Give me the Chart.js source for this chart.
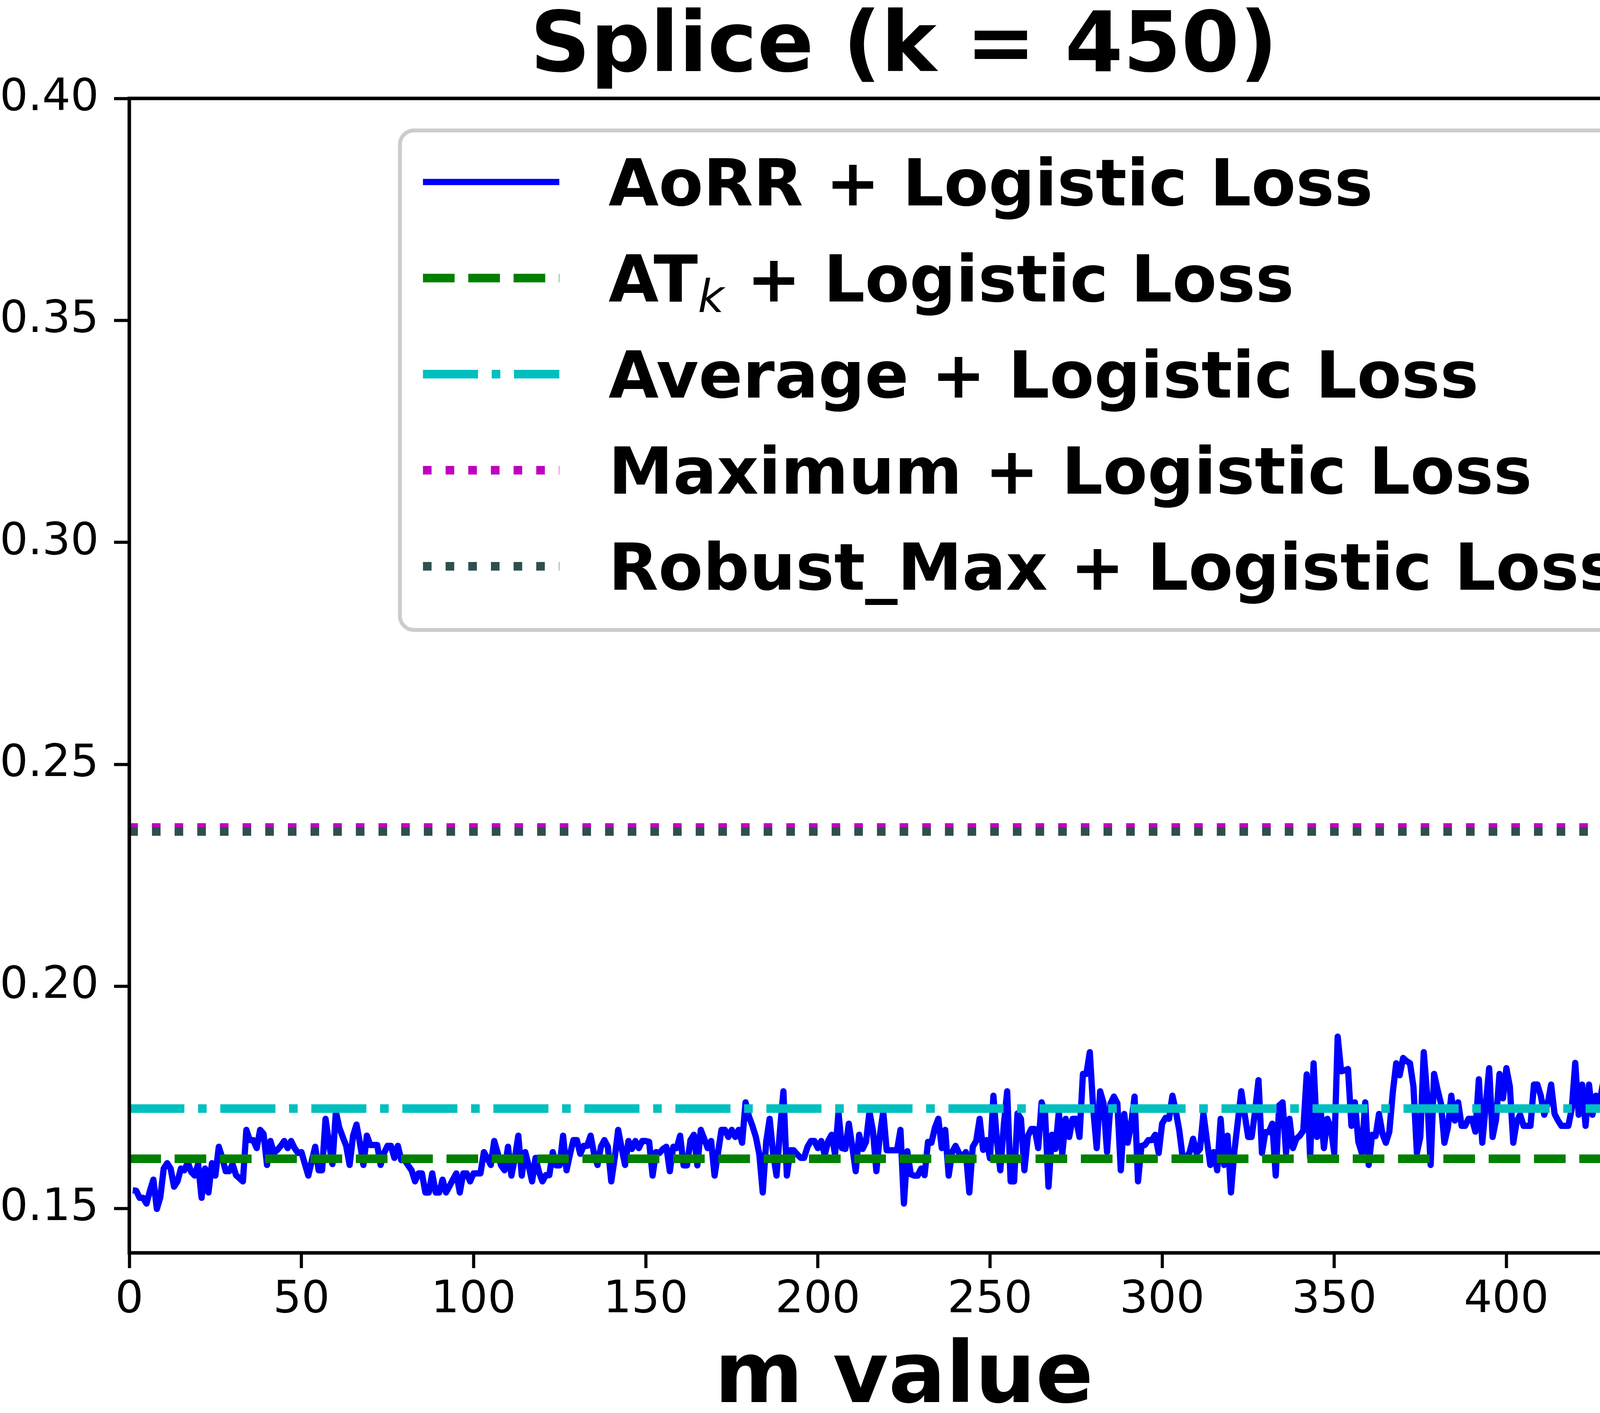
<!DOCTYPE html>
<html>
<head>
<meta charset="utf-8">
<title>Splice (k = 450)</title>
<script src="https://cdn.jsdelivr.net/npm/chart.js@4/dist/chart.umd.min.js"></script>
<style>
  html, body { margin: 0; padding: 0; background: #fff; overflow: hidden; }
  #splicechart { display: block; width: 4401px; height: 3618px; }
</style>
</head>
<body>
<canvas id="splicechart" width="4401" height="3618"></canvas>
<script>
// m runs from 1 to 450, one AoRR error value per m
var mStart = 1;
var aorrValues = [
    0.1541, 0.1540, 0.1524, 0.1524, 0.1511, 0.1540, 0.1565, 0.1499, 0.1525, 0.1590, 0.1602, 0.1590, 0.1549, 0.1561, 0.1590,
    0.1586, 0.1604, 0.1582, 0.1574, 0.1600, 0.1524, 0.1590, 0.1536, 0.1602, 0.1574, 0.1639, 0.1614, 0.1584, 0.1584, 0.1600,
    0.1575, 0.1568, 0.1561, 0.1677, 0.1654, 0.1654, 0.1636, 0.1677, 0.1668, 0.1598, 0.1652, 0.1625, 0.1632, 0.1641, 0.1652,
    0.1636, 0.1652, 0.1636, 0.1625, 0.1627, 0.1600, 0.1574, 0.1607, 0.1639, 0.1586, 0.1586, 0.1702, 0.1647, 0.1600, 0.1718,
    0.1682, 0.1661, 0.1641, 0.1598, 0.1664, 0.1689, 0.1647, 0.1598, 0.1664, 0.1643, 0.1643, 0.1643, 0.1598, 0.1625, 0.1641,
    0.1641, 0.1614, 0.1641, 0.1609, 0.1609, 0.1597, 0.1586, 0.1561, 0.1579, 0.1579, 0.1536, 0.1536, 0.1579, 0.1536, 0.1536,
    0.1565, 0.1536, 0.1550, 0.1565, 0.1579, 0.1536, 0.1579, 0.1579, 0.1561, 0.1579, 0.1579, 0.1579, 0.1627, 0.1613, 0.1598,
    0.1652, 0.1625, 0.1597, 0.1586, 0.1639, 0.1574, 0.1614, 0.1664, 0.1574, 0.1627, 0.1597, 0.1561, 0.1614, 0.1582, 0.1561,
    0.1575, 0.1575, 0.1627, 0.1597, 0.1597, 0.1664, 0.1586, 0.1622, 0.1654, 0.1654, 0.1623, 0.1641, 0.1641, 0.1664, 0.1623,
    0.1598, 0.1639, 0.1654, 0.1639, 0.1561, 0.1614, 0.1677, 0.1636, 0.1598, 0.1652, 0.1634, 0.1652, 0.1636, 0.1652, 0.1652,
    0.1650, 0.1574, 0.1627, 0.1625, 0.1634, 0.1639, 0.1584, 0.1639, 0.1636, 0.1664, 0.1597, 0.1597, 0.1654, 0.1666, 0.1597,
    0.1677, 0.1657, 0.1636, 0.1652, 0.1574, 0.1625, 0.1677, 0.1677, 0.1661, 0.1677, 0.1661, 0.1677, 0.1648, 0.1739, 0.1707,
    0.1686, 0.1661, 0.1622, 0.1536, 0.1650, 0.1702, 0.1625, 0.1574, 0.1675, 0.1764, 0.1574, 0.1631, 0.1631, 0.1622, 0.1614,
    0.1614, 0.1639, 0.1652, 0.1652, 0.1636, 0.1652, 0.1620, 0.1652, 0.1666, 0.1622, 0.1716, 0.1636, 0.1634, 0.1691, 0.1639,
    0.1584, 0.1666, 0.1634, 0.1650, 0.1718, 0.1675, 0.1584, 0.1664, 0.1718, 0.1631, 0.1631, 0.1631, 0.1631, 0.1677, 0.1511,
    0.1629, 0.1577, 0.1574, 0.1574, 0.1590, 0.1575, 0.1650, 0.1648, 0.1682, 0.1702, 0.1636, 0.1677, 0.1574, 0.1627, 0.1641,
    0.1625, 0.1616, 0.1627, 0.1536, 0.1639, 0.1652, 0.1702, 0.1632, 0.1654, 0.1613, 0.1754, 0.1654, 0.1586, 0.1686, 0.1764,
    0.1561, 0.1561, 0.1714, 0.1702, 0.1586, 0.1663, 0.1679, 0.1679, 0.1636, 0.1739, 0.1714, 0.1549, 0.1666, 0.1634, 0.1718,
    0.1622, 0.1702, 0.1661, 0.1702, 0.1702, 0.1661, 0.1803, 0.1803, 0.1852, 0.1723, 0.1636, 0.1764, 0.1737, 0.1627, 0.1736,
    0.1752, 0.1737, 0.1586, 0.1713, 0.1648, 0.1689, 0.1752, 0.1561, 0.1641, 0.1643, 0.1654, 0.1654, 0.1666, 0.1625, 0.1691,
    0.1704, 0.1702, 0.1754, 0.1718, 0.1675, 0.1613, 0.1613, 0.1627, 0.1657, 0.1625, 0.1634, 0.1714, 0.1654, 0.1598, 0.1627,
    0.1586, 0.1702, 0.1598, 0.1664, 0.1536, 0.1629, 0.1696, 0.1764, 0.1711, 0.1661, 0.1661, 0.1718, 0.1789, 0.1625, 0.1672,
    0.1672, 0.1691, 0.1574, 0.1732, 0.1739, 0.1625, 0.1702, 0.1636, 0.1657, 0.1664, 0.1675, 0.1802, 0.1614, 0.1827, 0.1661,
    0.1727, 0.1636, 0.1702, 0.1682, 0.1625, 0.1887, 0.1809, 0.1811, 0.1814, 0.1686, 0.1739, 0.1650, 0.1625, 0.1739, 0.1598,
    0.1666, 0.1663, 0.1713, 0.1668, 0.1648, 0.1673, 0.1761, 0.1827, 0.1800, 0.1839, 0.1832, 0.1827, 0.1775, 0.1625, 0.1661,
    0.1852, 0.1754, 0.1598, 0.1803, 0.1768, 0.1736, 0.1648, 0.1682, 0.1754, 0.1698, 0.1739, 0.1686, 0.1686, 0.1702, 0.1702,
    0.1673, 0.1791, 0.1648, 0.1732, 0.1816, 0.1661, 0.1700, 0.1803, 0.1748, 0.1816, 0.1775, 0.1648, 0.1696, 0.1711, 0.1686,
    0.1686, 0.1686, 0.1779, 0.1779, 0.1754, 0.1711, 0.1736, 0.1779, 0.1713, 0.1698, 0.1686, 0.1686, 0.1686, 0.1725, 0.1828,
    0.1711, 0.1779, 0.1686, 0.1779, 0.1711, 0.1754, 0.1736, 0.1779, 0.1746, 0.1736, 0.1791, 0.1754, 0.1739, 0.1779, 0.1816,
    0.1807, 0.1711, 0.1711, 0.1754, 0.1803, 0.1786, 0.1796, 0.1814, 0.1814, 0.1750, 0.1791, 0.1739, 0.1725, 0.1793, 0.1793
];

// flat baselines (same value for every m)
var atkValue = 0.1612;
var averageValue = 0.1725;
var maximumValue = 0.2358;
var robustMaxValue = 0.2349;

var seriesLabels = [
    'AoRR + Logistic Loss',
    'AT$_k$ + Logistic Loss',
    'Average + Logistic Loss',
    'Maximum + Logistic Loss',
    'Robust_Max + Logistic Loss'
];

var chartTitle = 'Splice (k = 450)';
var xTitle = 'm value';

var xRange = [0, 450];
var xTickValues = [0, 50, 100, 150, 200, 250, 300, 350, 400, 450];
var yRange = [0.14, 0.40];
var yTickValues = [0.15, 0.20, 0.25, 0.30, 0.35, 0.40];

var fontFamily = '"DejaVu Sans", sans-serif';

var aorrPoints = aorrValues.map(function (v, i) {
    return { x: mStart + i, y: v };
});

function flatLine(v) {
    return [{ x: xRange[0], y: v }, { x: xRange[1], y: v }];
}

// split "AT$_k$ + ..." into normal and subscript pieces
function labelParts(label) {
    var parts = [], re = /\$_(.+?)\$/g, last = 0, m;
    while ((m = re.exec(label)) !== null) {
        if (m.index > last) parts.push({ text: label.slice(last, m.index), sub: false });
        parts.push({ text: m[1], sub: true });
        last = re.lastIndex;
    }
    if (last < label.length) parts.push({ text: label.slice(last), sub: false });
    return parts;
}

var legendFont = 166;
var subFont = 116;

function partFont(p) {
    return p.sub ? 'italic ' + subFont + 'px ' + fontFamily : 'bold ' + legendFont + 'px ' + fontFamily;
}

function partsWidth(ctx, parts) {
    var w = 0;
    parts.forEach(function (p) {
        ctx.font = partFont(p);
        w += ctx.measureText(p.text).width;
    });
    return w;
}

var frameAndLegend = {
    id: 'frameAndLegend',
    afterDatasetsDraw: function (chart) {
        var a = chart.chartArea, ctx = chart.ctx;
        ctx.save();
        ctx.strokeStyle = '#000';
        ctx.lineWidth = 9;
        ctx.strokeRect(a.left, a.top, a.right - a.left, a.bottom - a.top);
        ctx.restore();
    },
    afterDraw: function (chart) {
        var a = chart.chartArea, ctx = chart.ctx;
        var sets = chart.data.datasets;
        ctx.save();

        // title, centred over the plot area like matplotlib
        ctx.font = 'bold 214px ' + fontFamily;
        ctx.fillStyle = '#000';
        ctx.textAlign = 'center';
        ctx.textBaseline = 'alphabetic';
        ctx.fillText(chartTitle, (a.left + a.right) / 2, a.top - 70);

        var rowGap = 246, handleLen = 349, handlePad = 126;
        var padL = 59, padR = 75, padT = 132, padB = 163;
        var maxW = 0;
        sets.forEach(function (ds) {
            maxW = Math.max(maxW, partsWidth(ctx, labelParts(ds.label)));
        });
        var right = a.right - 81, top = a.top + 82;
        var w = padL + handleLen + handlePad + maxW + padR;
        var h = padT + (sets.length - 1) * rowGap + padB;
        var left = right - w, r = 36;

        ctx.beginPath();
        ctx.moveTo(left + r, top);
        ctx.arcTo(right, top, right, top + h, r);
        ctx.arcTo(right, top + h, left, top + h, r);
        ctx.arcTo(left, top + h, left, top, r);
        ctx.arcTo(left, top, right, top, r);
        ctx.closePath();
        ctx.fillStyle = 'rgba(255,255,255,0.8)';
        ctx.fill();
        ctx.lineWidth = 10;
        ctx.strokeStyle = '#cccccc';
        ctx.stroke();

        sets.forEach(function (ds, i) {
            var cy = top + padT + i * rowGap;
            ctx.beginPath();
            ctx.setLineDash(ds.borderDash || []);
            ctx.lineCap = 'butt';
            ctx.lineWidth = ds.borderWidth;
            ctx.strokeStyle = ds.borderColor;
            ctx.moveTo(left + padL, cy);
            ctx.lineTo(left + padL + handleLen, cy);
            ctx.stroke();
            ctx.setLineDash([]);

            var x = left + padL + handleLen + handlePad;
            var base = cy + 60;
            ctx.fillStyle = '#000';
            ctx.textBaseline = 'alphabetic';
            ctx.textAlign = 'left';
            labelParts(ds.label).forEach(function (p) {
                ctx.font = partFont(p);
                ctx.fillText(p.text, x, p.sub ? base + 27 : base);
                x += ctx.measureText(p.text).width;
            });
        });
        ctx.restore();
    }
};

var ctx = document.getElementById('splicechart').getContext('2d');

var splicechart = new Chart(ctx, {
    type: 'line',
    data: {
        datasets: [{
            label: seriesLabels[0],
            data: aorrPoints,
            borderColor: '#0000ff',
            borderWidth: 16,
            order: 5
        }, {
            label: seriesLabels[1],
            data: flatLine(atkValue),
            borderColor: '#008000',
            borderWidth: 22,
            borderDash: [81, 35],
            order: 4
        }, {
            label: seriesLabels[2],
            data: flatLine(averageValue),
            borderColor: '#00bfbf',
            borderWidth: 22,
            borderDash: [141, 35, 22, 35],
            order: 3
        }, {
            label: seriesLabels[3],
            data: flatLine(maximumValue),
            borderColor: '#bf00bf',
            borderWidth: 22,
            borderDash: [22, 36],
            order: 2
        }, {
            label: seriesLabels[4],
            data: flatLine(robustMaxValue),
            borderColor: '#2f4f4f',
            borderWidth: 22,
            borderDash: [22, 36],
            order: 1
        }]
    },
    options: {
        responsive: false,
        animation: false,
        devicePixelRatio: 1,
        clip: 0,
        elements: {
            point: { radius: 0, hoverRadius: 0 },
            line: { tension: 0, fill: false, borderCapStyle: 'butt', borderJoinStyle: 'round' }
        },
        layout: { padding: { left: 0, right: 104, top: 252, bottom: 0 } },
        plugins: {
            legend: { display: false },
            tooltip: { enabled: false },
            title: { display: false }
        },
        scales: {
            x: {
                type: 'linear',
                min: xRange[0],
                max: xRange[1],
                afterBuildTicks: function (scale) {
                    scale.ticks = xTickValues.map(function (v) { return { value: v }; });
                },
                afterFit: function (scale) {
                    scale.height = 410;
                    scale.paddingLeft = 0;
                    scale.paddingRight = 0;
                },
                border: { display: false },
                grid: { drawOnChartArea: false, drawTicks: true, tickLength: 39, tickWidth: 8, tickColor: '#000' },
                ticks: {
                    autoSkip: false,
                    maxRotation: 0,
                    padding: 15,
                    color: '#000',
                    font: { family: fontFamily, size: 114 },
                    callback: function (v) { return String(v); }
                },
                title: {
                    display: true,
                    text: xTitle,
                    color: '#000',
                    font: { family: fontFamily, size: 218, weight: 'bold', lineHeight: 0.78 },
                    padding: 0
                }
            },
            y: {
                min: yRange[0],
                max: yRange[1],
                afterBuildTicks: function (scale) {
                    scale.ticks = yTickValues.map(function (v) { return { value: v }; });
                },
                afterFit: function (scale) {
                    scale.width = 331;
                    scale.paddingTop = 0;
                    scale.paddingBottom = 0;
                },
                border: { display: false },
                grid: { drawOnChartArea: false, drawTicks: true, tickLength: 39, tickWidth: 8, tickColor: '#000' },
                ticks: {
                    autoSkip: false,
                    padding: 39,
                    color: '#000',
                    font: { family: fontFamily, size: 114 },
                    callback: function (v) { return Number(v).toFixed(2); }
                }
            }
        }
    },
    plugins: [frameAndLegend]
});
</script>
</body>
</html>
